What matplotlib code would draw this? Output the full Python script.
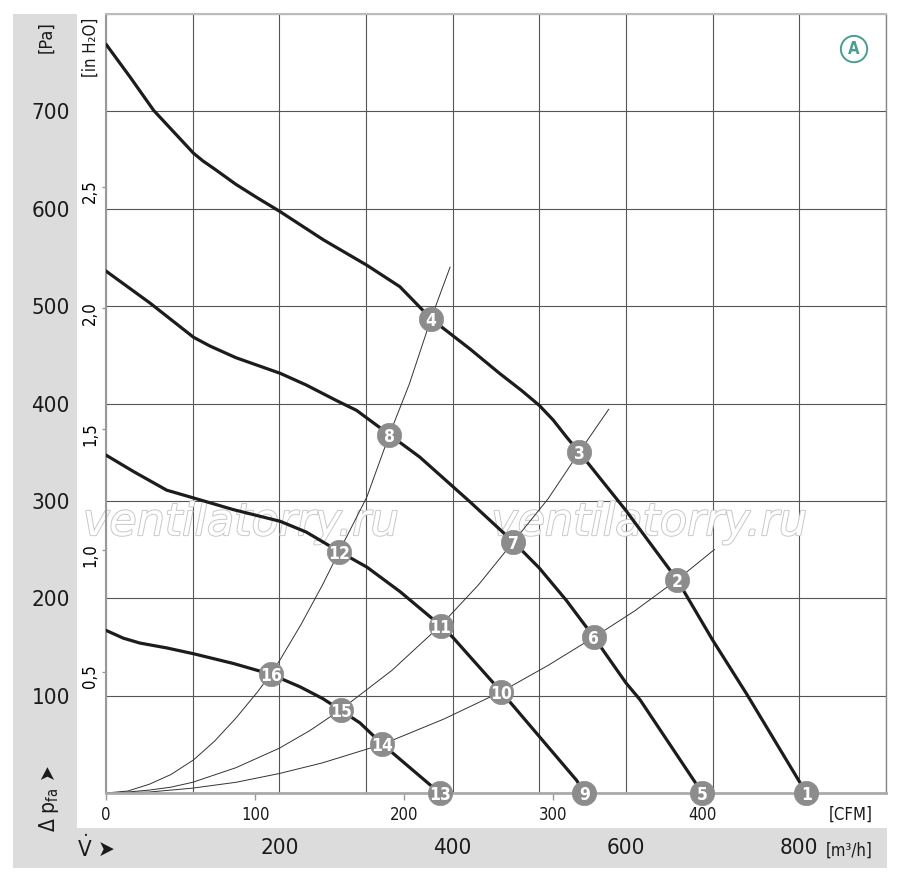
import matplotlib
matplotlib.use('Agg')
import matplotlib.pyplot as plt
from matplotlib import font_manager as fm
from matplotlib.patches import Rectangle
import matplotlib.patheffects as pe

# the chart uses a condensed sans; take one if the system has it
narrow_names = {f.name for f in fm.fontManager.ttflist
                if f.stretch in ('condensed', 'semi-condensed', 'extra-condensed')
                or 'Narrow' in f.name or 'Condensed' in f.name}
base_font = 'Roboto'
for cand in ['Liberation Sans Narrow', 'DejaVu Sans', 'Roboto Condensed', 'Open Sans Condensed']:
    if cand in narrow_names:
        base_font = cand
        break
plt.rcParams['font.family'] = [base_font, 'DejaVu Sans']
plt.rcParams['font.stretch'] = 'condensed'
plt.rcParams['mathtext.fontset'] = 'custom'
plt.rcParams['mathtext.rm'] = base_font
plt.rcParams['mathtext.it'] = base_font + ':italic'

# fan curves, flow in m3/h, pressure in Pa
flow_1 = [0, 28, 55, 78, 101, 112, 125, 150, 175, 201, 251, 301, 339, 362, 375, 420, 454, 480, 500, 516, 531, 546, 600, 659, 700, 739, 808]
pa_1 = [769, 735, 701, 679, 657, 649, 641, 625, 611, 597, 568, 542, 520, 499, 487, 456, 431, 413, 398, 383, 366, 350, 290, 219, 157, 102, 0]

flow_2 = [0, 51, 101, 120, 150, 201, 231, 266, 289, 327, 362, 420, 454, 470, 500, 531, 563, 600, 616, 688]
pa_2 = [536, 503, 468, 459, 447, 431, 419, 403, 393, 368, 345, 299, 271, 258, 231, 198, 160, 113, 96, 0]

flow_3 = [0, 32, 70, 101, 147, 201, 231, 269, 301, 339, 386, 400, 456, 500, 543, 552]
pa_3 = [347, 330, 311, 303, 291, 279, 268, 248, 232, 207, 172, 160, 104, 58, 13, 0]

flow_4 = [0, 20, 39, 70, 101, 147, 190, 224, 250, 271, 293, 319, 385]
pa_4 = [167, 159, 154, 149, 143, 133, 122, 109, 97, 85, 72, 50, 0]

# system (resistance) curves
sys_a_flow = [0, 25, 50, 75, 101, 125, 150, 175, 190, 201, 225, 250, 269, 301, 327, 350, 375, 397]
sys_a_pa = [0, 2, 9, 19, 34, 53, 77, 104, 122, 137, 173, 214, 248, 304, 368, 420, 487, 540]

sys_b_flow = [0, 25, 50, 75, 100, 150, 200, 235, 270, 330, 386, 430, 470, 510, 546, 580]
sys_b_pa = [0, 1, 3, 6, 11, 26, 46, 64, 85, 126, 172, 214, 258, 302, 350, 394]

sys_c_flow = [0, 50, 100, 150, 200, 250, 319, 390, 456, 510, 563, 610, 659, 702]
sys_c_pa = [0, 1, 5, 11, 20, 31, 50, 76, 104, 131, 160, 187, 219, 250]

# numbered operating points
pt_label = [str(i) for i in range(1, 17)]
pt_flow = [808, 659, 546, 375, 688, 563, 470, 327, 552, 456, 386, 269, 385, 319, 271, 190]
pt_pa = [0, 219, 350, 487, 0, 160, 258, 368, 0, 104, 172, 248, 0, 50, 85, 122]

m3h_ticks = list(range(0, 901, 100))
m3h_labels = ['', '', '200', '', '400', '', '600', '', '800', '']
pa_ticks = list(range(0, 801, 100))
pa_labels = ['', '100', '200', '300', '400', '500', '600', '700', '']
cfm_ticks = [0, 100, 200, 300, 400]
inh2o_ticks = [0.5, 1.0, 1.5, 2.0, 2.5]
inh2o_labels = ['0,5', '1,0', '1,5', '2,0', '2,5']

cfm_factor = 1.72     # m3/h per CFM as spaced on the chart
pa_per_inh2o = 249.09

W, H = 900, 886
fig = plt.figure(figsize=(W / 100, H / 100), dpi=100)
ax = fig.add_axes([106 / W, 1 - 793 / H, 780 / W, 779 / H])
ax.set_xlim(0, 900)
ax.set_ylim(0, 800)

band = '#dcdcdc'
fig.patches.append(Rectangle((13 / W, 1 - 868 / H), 64 / W, 854 / H, transform=fig.transFigure,
                             fc=band, ec='none', zorder=-1))
fig.patches.append(Rectangle((13 / W, 1 - 868 / H), 874 / W, 40 / H, transform=fig.transFigure,
                             fc=band, ec='none', zorder=-1))

ax.set_xticks(m3h_ticks)
ax.set_xticklabels(m3h_labels)
ax.set_yticks(pa_ticks)
ax.set_yticklabels(pa_labels)
ax.tick_params(axis='x', length=0, pad=32.5, labelsize=16, colors='#1a1a1a')
ax.tick_params(axis='y', length=0, pad=26, labelsize=16, colors='#1a1a1a')
ax.grid(True, color='#555555', lw=0.8)
ax.set_axisbelow(True)

ax.spines['left'].set_color('#999999')
ax.spines['left'].set_linewidth(1.5)
ax.spines['bottom'].set_color('#aaaaaa')
ax.spines['bottom'].set_linewidth(2)
ax.spines['top'].set_color('#bbbbbb')
ax.spines['top'].set_linewidth(1.5)
ax.spines['right'].set_color('#888888')
ax.spines['right'].set_linewidth(1)

sec = ax.secondary_xaxis('bottom', functions=(lambda m: m / cfm_factor, lambda c: c * cfm_factor))
sec.set_xticks(cfm_ticks)
sec.tick_params(length=5, width=1, color='#999999', labelsize=12, pad=4, colors='#1a1a1a')
sec.tick_params(color='#999999')
sec.spines['bottom'].set_visible(False)

secy = ax.secondary_yaxis('left', functions=(lambda p: p / pa_per_inh2o, lambda i: i * pa_per_inh2o))
secy.set_yticks(inh2o_ticks)
secy.set_yticklabels(inh2o_labels)
secy.tick_params(length=3, width=1, color='#999999', labelsize=12, pad=2, labelrotation=90)
secy.spines['left'].set_visible(False)

# watermark
for xf in (-0.0295, 0.494):
    ax.text(xf, 0.331, 'ventilatorry.ru', transform=ax.transAxes, fontsize=32, style='italic',
            weight='light', family='DejaVu Sans', stretch='normal', color='white', ha='left',
            va='baseline', zorder=1.5, clip_on=False,
            path_effects=[pe.withStroke(linewidth=1.4, foreground='#c8c8c8')])

for fx, fy in [(sys_a_flow, sys_a_pa), (sys_b_flow, sys_b_pa), (sys_c_flow, sys_c_pa)]:
    ax.plot(fx, fy, color='#333333', lw=0.7, zorder=2)

for fx, fy in [(flow_1, pa_1), (flow_2, pa_2), (flow_3, pa_3), (flow_4, pa_4)]:
    ax.plot(fx, fy, color='#1c1c1c', lw=2.3, zorder=3, solid_capstyle='round', solid_joinstyle='round')

ax.plot(pt_flow, pt_pa, 'o', ms=17.5, mfc='#8c8c8c', mec='#8c8c8c', mew=0.5, zorder=5, clip_on=False)
for lab, x, y in zip(pt_label, pt_flow, pt_pa):
    ax.text(x, y, lab, ha='center', va='center_baseline', color='white', fontsize=12.5,
            weight='bold', zorder=6, clip_on=False)

ax.text(0.959, 0.955, 'A', transform=ax.transAxes, ha='center', va='center', color='#4a9d92',
        fontsize=12, weight='bold',
        bbox=dict(boxstyle='circle,pad=0.25', fc='white', ec='#4a9d92', lw=1.4))

fig.text(46 / W, 1 - 37 / H, '[Pa]', rotation=90, ha='center', va='center', fontsize=13, color='#1a1a1a')
fig.text(91 / W, 1 - 47 / H, '[in H₂O]', rotation=90, ha='center', va='center', fontsize=12, color='#1a1a1a')
fig.text(873 / W, 1 - 815 / H, '[CFM]', ha='right', va='center', fontsize=12, color='#1a1a1a')
fig.text(873 / W, 1 - 851 / H, '[m³/h]', ha='right', va='center', fontsize=12, color='#1a1a1a')
fig.text(77 / W, 1 - 848 / H, r'$\dot{\mathrm{V}}$ ➤', ha='left', va='center', fontsize=16, color='#1a1a1a')
fig.text(49 / W, 1 - 798 / H, r'Δ p$_{\mathrm{fa}}$ ➤', rotation=90, ha='center', va='center',
         fontsize=15, color='#1a1a1a')

fig.savefig('out.png', dpi=100, facecolor='white')
